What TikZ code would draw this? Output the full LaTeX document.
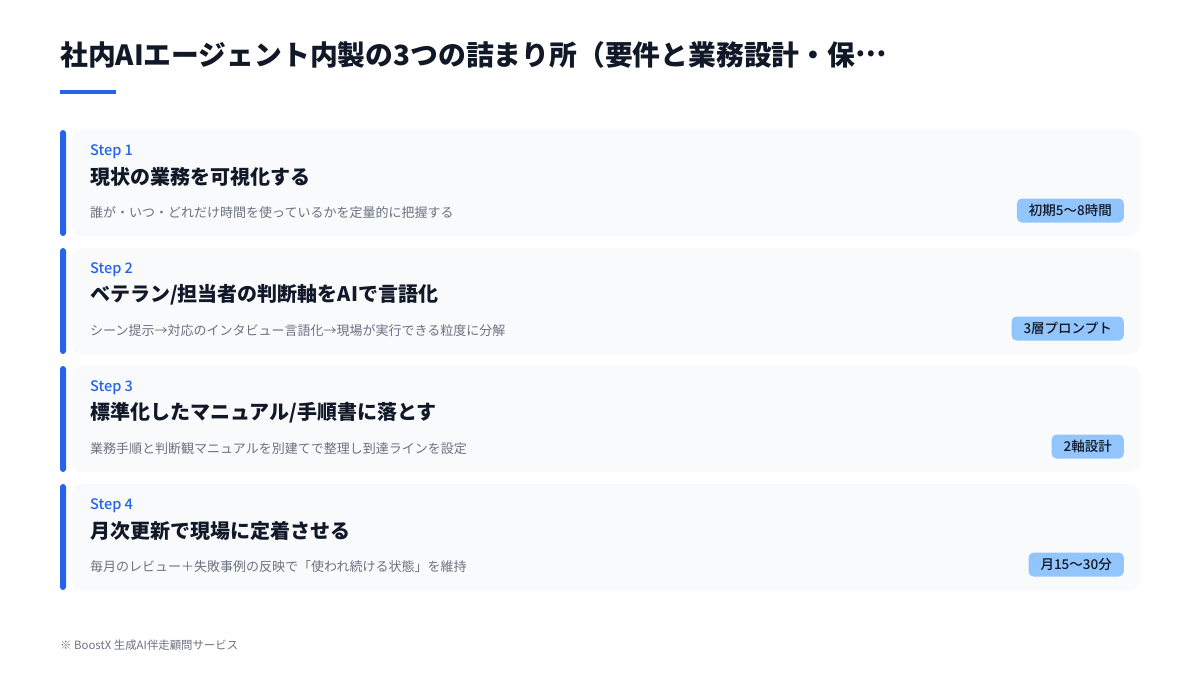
\documentclass[tikz,border=0pt]{standalone}
\usepackage{fontspec}
\setmainfont{Noto Sans CJK JP}
\newfontfamily\medfont{Noto Sans CJK JP Medium}
\usetikzlibrary{positioning}
\definecolor{ink}{HTML}{111827}
\definecolor{accent}{HTML}{2563EB}
\definecolor{cardbg}{HTML}{F8FAFC}
\definecolor{muted}{HTML}{6B7280}
\definecolor{tagbg}{HTML}{93C5FD}
\tikzset{
	card/.style={rectangle, rounded corners=10pt, fill=cardbg, minimum width=1068pt, minimum height=106pt, inner sep=0pt},
	bar/.style={rectangle, rounded corners=3pt, fill=accent, minimum width=6pt, minimum height=106pt, inner sep=0pt},
	steplabel/.style={anchor=west, inner sep=0pt, text=accent, font=\fontsize{14.5}{16}\selectfont\medfont},
	heading/.style={anchor=west, inner sep=0pt, text=ink, font=\fontsize{20}{24}\selectfont\bfseries},
	detail/.style={anchor=west, inner sep=0pt, text=muted, font=\fontsize{13}{15}\selectfont},
	tag/.style={anchor=east, rectangle, rounded corners=5pt, fill=tagbg, text=ink, minimum height=24pt, inner xsep=12pt, inner ysep=0pt, font=\fontsize{13.5}{15}\selectfont\medfont}
}
\begin{document}
\begin{tikzpicture}[x=1pt, y=-1pt]
	\useasboundingbox[fill=white] (0,0) rectangle (1200,675);

	\node[anchor=west, inner sep=0pt, text=ink, font=\fontsize{27.8}{32}\selectfont\bfseries] (title) at (60,54.5) {社内AIエージェント内製の3つの詰まり所（要件と業務設計・保\raisebox{0.3em}{…}};
	\fill[accent] (60,90) rectangle (116,94);

	\node[card] (c1) at (606,183) {};
	\node[card] (c2) at (606,301) {};
	\node[card] (c3) at (606,419) {};
	\node[card] (c4) at (606,537) {};

	\node[bar] (r1) at (63,183) {};
	\node[bar] (r2) at (63,301) {};
	\node[bar] (r3) at (63,419) {};
	\node[bar] (r4) at (63,537) {};

	\node[steplabel] (s1) at (90,152) {Step 1};
	\node[heading] (h1) at (90,177) {現状の業務を可視化する};
	\node[detail] (d1) at (90,212.5) {誰が・いつ・どれだけ時間を使っているかを定量的に把握する};
	\node[tag] (t1) at (1124,210.5) {初期5〜8時間};

	\node[steplabel] (s2) at (90,270) {Step 2};
	\node[heading] (h2) at (90,295) {ベテラン/担当者の判断軸をAIで言語化};
	\node[detail] (d2) at (90,330.5) {シーン提示→対応のインタビュー言語化→現場が実行できる粒度に分解};
	\node[tag] (t2) at (1124,328.5) {3層プロンプト};

	\node[steplabel] (s3) at (90,388) {Step 3};
	\node[heading] (h3) at (90,413) {標準化したマニュアル/手順書に落とす};
	\node[detail] (d3) at (90,448.5) {業務手順と判断観マニュアルを別建てで整理し到達ラインを設定};
	\node[tag] (t3) at (1124,446.5) {2軸設計};

	\node[steplabel] (s4) at (90,506) {Step 4};
	\node[heading] (h4) at (90,531) {月次更新で現場に定着させる};
	\node[detail] (d4) at (90,566.5) {毎月のレビュー＋失敗事例の反映で「使われ続ける状態」を維持};
	\node[tag] (t4) at (1124,564.5) {月15〜30分};

	\node[anchor=west, inner sep=0pt, text=muted, font=\fontsize{11.4}{13}\selectfont] (note) at (60,645) {※ BoostX 生成AI伴走顧問サービス};
\end{tikzpicture}
\end{document}
